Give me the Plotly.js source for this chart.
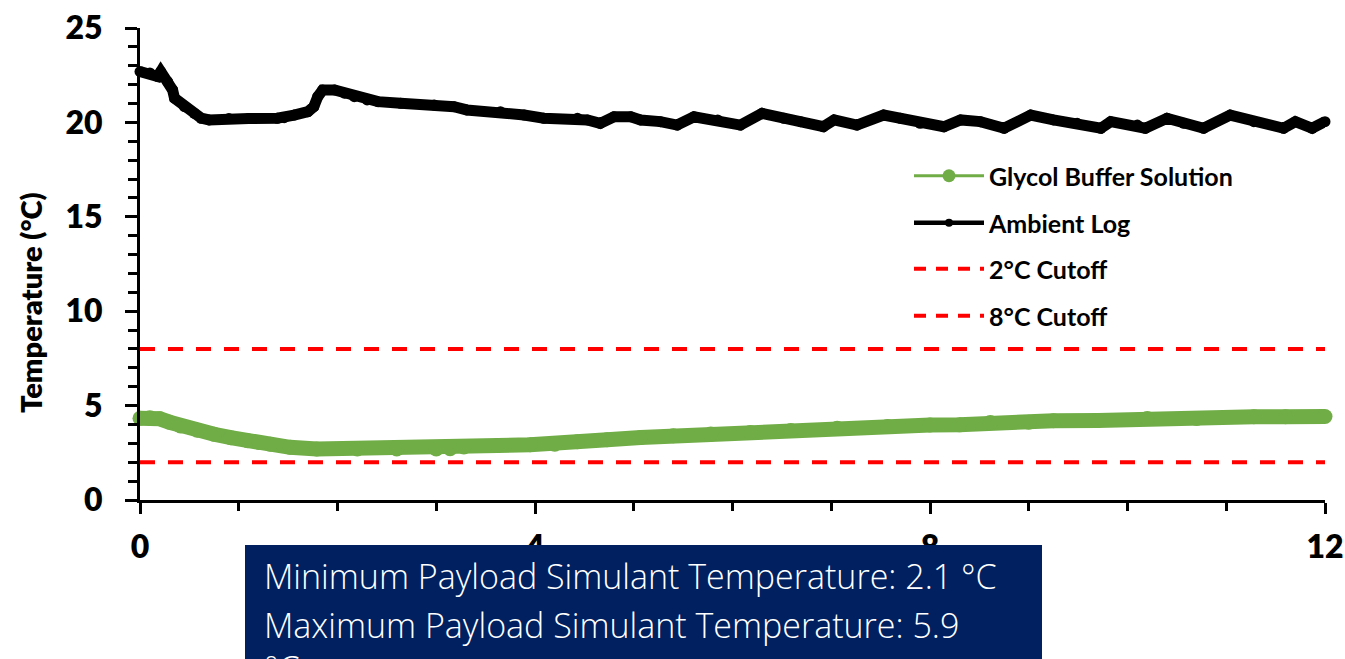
<!DOCTYPE html>
<html>
<head>
<meta charset="utf-8">
<script src="https://cdn.plot.ly/plotly-3.0.1.min.js"></script>
<style>html,body{margin:0;padding:0;background:#fff;}#chart{width:1345px;height:659px;}</style>
</head>
<body>
<div id="chart"></div>
<script>
// ---- Data ----
const glycolTime = [0, 0.1, 0.2, 0.3, 0.41, 0.58, 0.75, 0.92, 1.09, 1.2, 1.32, 1.52, 1.79, 2.2, 2.6, 3.0, 3.14, 3.28, 3.62, 3.95, 4.2, 4.43, 4.73, 5.07, 5.40, 5.78, 6.18, 6.59, 7.06, 7.57, 8.0, 8.3, 8.61, 9.0, 9.25, 9.7, 10.2, 10.7, 11.28, 11.6, 12.0];
const glycolTemp = [4.33, 4.35, 4.30, 4.12, 3.92, 3.70, 3.48, 3.30, 3.14, 3.05, 2.95, 2.79, 2.70, 2.70, 2.70, 2.70, 2.72, 2.81, 2.89, 2.93, 2.95, 3.09, 3.19, 3.31, 3.40, 3.49, 3.58, 3.68, 3.80, 3.89, 3.97, 3.98, 4.11, 4.12, 4.20, 4.21, 4.32, 4.32, 4.41, 4.41, 4.42];

const ambientTime = [0.0, 0.1, 0.18, 0.21, 0.28, 0.33, 0.35, 0.45, 0.55, 0.62, 0.70, 0.9, 1.1, 1.39, 1.46, 1.56, 1.70, 1.76, 1.80, 1.85, 1.97, 2.07, 2.17, 2.30, 2.41, 2.64, 2.98, 3.18, 3.31, 3.65, 3.89, 4.09, 4.43, 4.53, 4.66, 4.80, 4.97, 5.07, 5.27, 5.44, 5.61, 5.85, 6.08, 6.30, 6.52, 6.69, 6.92, 7.03, 7.26, 7.53, 7.70, 7.90, 8.14, 8.31, 8.51, 8.75, 9.02, 9.25, 9.49, 9.73, 9.83, 10.10, 10.18, 10.40, 10.57, 10.77, 11.04, 11.28, 11.58, 11.70, 11.87, 12.0];
const ambientTemp = [22.69, 22.62, 22.43, 22.69, 22.16, 21.72, 21.28, 20.83, 20.48, 20.22, 20.13, 20.2, 20.2, 20.22, 20.25, 20.39, 20.57, 20.83, 21.36, 21.72, 21.72, 21.55, 21.36, 21.19, 21.10, 21.01, 20.92, 20.83, 20.66, 20.57, 20.39, 20.22, 20.22, 20.13, 19.95, 20.30, 20.30, 20.13, 20.04, 19.86, 20.30, 20.13, 19.86, 20.48, 20.22, 20.04, 19.77, 20.13, 19.86, 20.39, 20.22, 19.95, 19.77, 20.13, 20.04, 19.69, 20.39, 20.13, 19.95, 19.69, 20.04, 19.86, 19.69, 20.22, 19.95, 19.69, 20.39, 20.04, 19.69, 20.04, 19.69, 20.04];

const cutoffTime = [0, 12];
const cutoff2 = [2, 2];
const cutoff8 = [8, 8];

const xTickVals = [0, 4, 8, 12];
const xTickText = ['0', '4', '8', '12'];
const yTickVals = [0, 5, 10, 15, 20, 25];
const yTickText = ['0', '5', '10', '15', '20', '25'];

const seriesNames = ['Glycol Buffer Solution', 'Ambient Log', '2°C Cutoff', '8°C Cutoff'];
const infoLines = ['Minimum Payload Simulant Temperature: 2.1 °C', 'Maximum Payload Simulant Temperature: 5.9', '°C'];

// ---- Styling ----
const GREEN = '#70AD47';
const RED = '#FF0000';
const NAVY = '#002060';
const DASH = '15px,13px';

const traces = [
  {x: cutoffTime, y: cutoff2, mode: 'lines', line: {color: RED, width: 4, dash: DASH}, showlegend: false, hoverinfo: 'skip'},
  {x: cutoffTime, y: cutoff8, mode: 'lines', line: {color: RED, width: 4, dash: DASH}, showlegend: false, hoverinfo: 'skip'},
  {x: glycolTime, y: glycolTemp, mode: 'lines+markers', line: {color: GREEN, width: 15}, marker: {color: GREEN, size: 15}, showlegend: false, cliponaxis: false},
  {x: ambientTime, y: ambientTemp, mode: 'lines+markers', line: {color: '#000', width: 11}, marker: {color: '#000', size: 11}, showlegend: false, cliponaxis: false},
  // legend entries
  {x: [null], y: [null], name: seriesNames[0], mode: 'lines+markers', line: {color: GREEN, width: 3}, marker: {color: GREEN, size: 13}, legend: 'legend'},
  {x: [null], y: [null], name: seriesNames[1], mode: 'lines+markers', line: {color: '#000', width: 4.5}, marker: {color: '#000', size: 8}, legend: 'legend2'},
  {x: [null], y: [null], name: seriesNames[2], mode: 'lines', line: {color: RED, width: 4, dash: '12px,10px'}, legend: 'legend3'},
  {x: [null], y: [null], name: seriesNames[3], mode: 'lines', line: {color: RED, width: 4, dash: '12px,10px'}, legend: 'legend4'}
];

const L = 140, R = 1325, T = 28, B = 500;
const W = R - L, H = B - T;
const px = v => (v - L) / W;
const py = v => (B - v) / H;

const legendFont = {family: 'Lato, sans-serif', size: 25, color: '#000', weight: 700};
function mkLegend(yPix) {
  return {x: px(909), y: py(yPix), xanchor: 'left', yanchor: 'middle', bgcolor: 'rgba(0,0,0,0)', borderwidth: 0, font: legendFont, itemwidth: 70, itemclick: false, itemdoubleclick: false};
}

const tickFont = {family: 'Lato, sans-serif', size: 32, color: '#000', weight: 800};
const infoFont = {family: '"Open Sans", sans-serif', size: 34, color: '#fff', weight: 300};

const layout = {
  width: 1345, height: 659,
  margin: {l: L, r: 1345 - R, t: T, b: 659 - B, pad: 0},
  paper_bgcolor: '#fff', plot_bgcolor: '#fff',
  showlegend: true,
  legend: mkLegend(176),
  legend2: mkLegend(223),
  legend3: mkLegend(269),
  legend4: mkLegend(316),
  xaxis: {
    range: [0, 12], showgrid: false, zeroline: false,
    showline: true, linecolor: '#000', linewidth: 3,
    tickmode: 'array', tickvals: xTickVals, ticktext: xTickText,
    ticks: 'outside', ticklen: 11, tickwidth: 3, tickcolor: '#000',
    minor: {dtick: 1, ticks: 'outside', ticklen: 8, tickwidth: 3, tickcolor: '#000', showgrid: false},
    tickfont: tickFont, ticklabelstandoff: 6
  },
  yaxis: {
    range: [0, 25], showgrid: false, zeroline: false,
    showline: true, linecolor: '#000', linewidth: 3,
    tickmode: 'array', tickvals: yTickVals, ticktext: yTickText,
    ticks: 'outside', ticklen: 12, tickwidth: 3, tickcolor: '#000',
    minor: {dtick: 1, ticks: 'outside', ticklen: 9, tickwidth: 3, tickcolor: '#000', showgrid: false},
    tickfont: tickFont, ticklabelstandoff: 16
  },
  shapes: [
    {type: 'rect', xref: 'paper', yref: 'paper', x0: px(245), x1: px(1042), y0: py(700), y1: py(545), fillcolor: NAVY, line: {width: 0}, layer: 'above'}
  ],
  annotations: [
    {text: 'Temperature (°C)', xref: 'paper', yref: 'paper', x: px(30), y: py(303), xanchor: 'center', yanchor: 'middle', textangle: -90, showarrow: false, font: {family: 'Lato, sans-serif', size: 29, color: '#000', weight: 800}},
    {text: infoLines[0], xref: 'paper', yref: 'paper', x: px(262), y: py(576), xanchor: 'left', yanchor: 'middle', showarrow: false, font: infoFont},
    {text: infoLines[1], xref: 'paper', yref: 'paper', x: px(262), y: py(625), xanchor: 'left', yanchor: 'middle', showarrow: false, font: infoFont},
    {text: infoLines[2], xref: 'paper', yref: 'paper', x: px(262), y: py(668), xanchor: 'left', yanchor: 'middle', showarrow: false, font: infoFont}
  ]
};

Plotly.newPlot('chart', traces, layout, {staticPlot: true, displayModeBar: false});
</script>
</body>
</html>
